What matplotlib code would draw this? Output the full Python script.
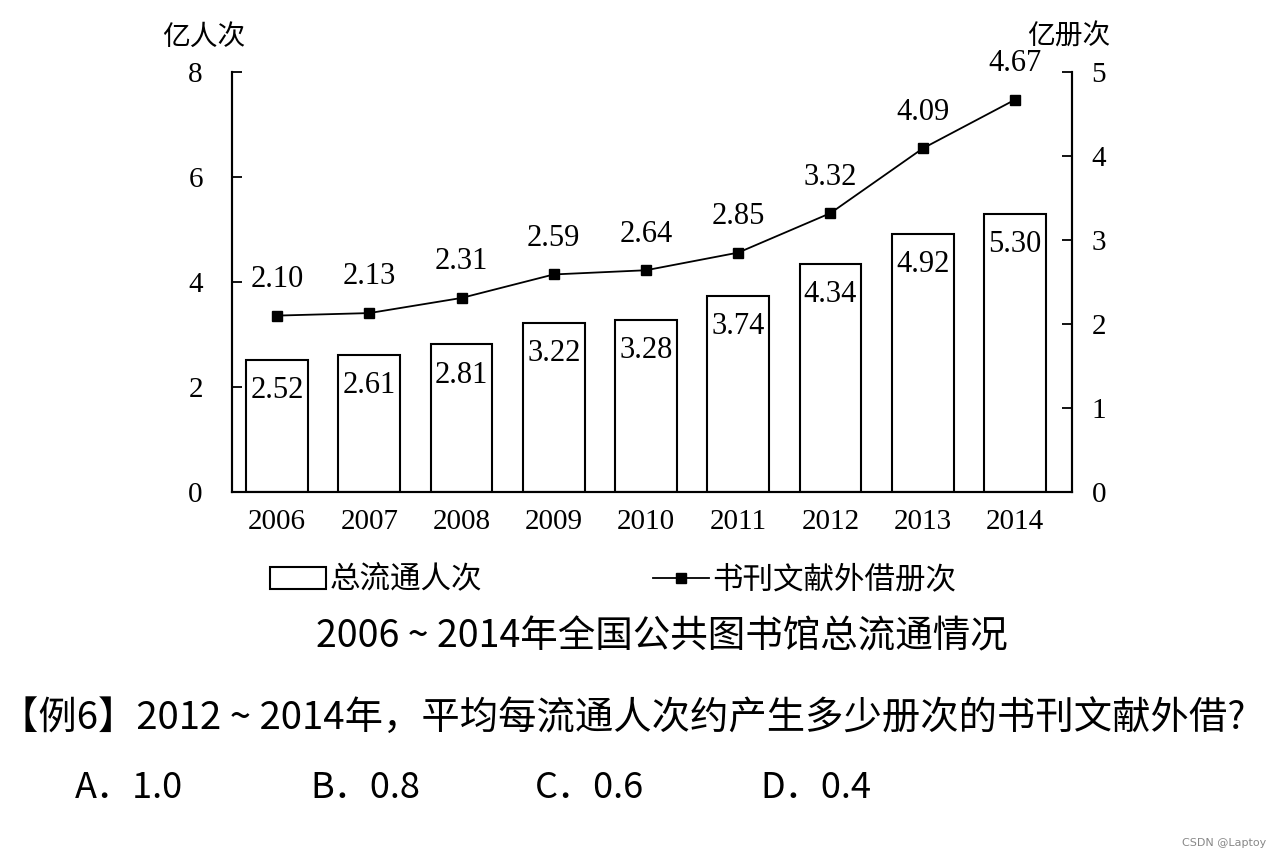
import matplotlib
matplotlib.use("Agg")
import matplotlib.pyplot as plt
from matplotlib.patches import Patch
from matplotlib.lines import Line2D

years = ["2006", "2007", "2008", "2009", "2010", "2011", "2012", "2013", "2014"]
visits = [2.52, 2.61, 2.81, 3.22, 3.28, 3.74, 4.34, 4.92, 5.30]      # 亿人次
loans = [2.10, 2.13, 2.31, 2.59, 2.64, 2.85, 3.32, 4.09, 4.67]       # 亿册次
left_ticks = [0, 2, 4, 6, 8]
right_ticks = [0, 1, 2, 3, 4, 5]

serif = ["Liberation Serif", "DejaVu Serif"]
cjk = ["Noto Sans CJK SC", "DejaVu Sans"]
plt.rcParams['font.family'] = cjk

fig = plt.figure(figsize=(12.83, 8.57), dpi=100)
ax = fig.add_axes([232/1283, 1-492/857, (1072-232)/1283, (492-72)/857])
ax2 = ax.twinx()

x = list(range(len(years)))
ax.bar(x, visits, width=0.67, facecolor="white", edgecolor="black", linewidth=1.5)
ax.set_xlim(-0.488, 8.618)
ax.set_ylim(0, 8)
ax.set_yticks(left_ticks)
ax.set_yticklabels([str(t) for t in left_ticks], family=serif, fontsize=21)
ax.set_xticks(x)
ax.set_xticklabels(years, family=serif, fontsize=21)
ax.tick_params(axis="x", length=0, pad=12)
ax.tick_params(axis="y", direction="in", length=7, width=1.3, pad=21)
for xi, v in zip(x, visits):
    ax.annotate(f"{v:.2f}", (xi, v), xytext=(0, -22), textcoords="offset points",
                ha="center", va="center", family=serif, fontsize=22)

ax2.plot(x, loans, color="black", linewidth=1.3, marker="s", markersize=7)
ax2.set_ylim(0, 5)
ax2.set_yticks(right_ticks)
ax2.set_yticklabels([str(t) for t in right_ticks], family=serif, fontsize=21)
ax2.tick_params(axis="y", direction="in", length=7, width=1.3, pad=14)
for xi, v in zip(x, loans):
    ax2.annotate(f"{v:.2f}", (xi, v), xytext=(0, 26), textcoords="offset points",
                 ha="center", va="center", family=serif, fontsize=22)

for a in (ax, ax2):
    a.spines["top"].set_visible(False)
    for s in ("left", "right", "bottom"):
        a.spines[s].set_linewidth(1.5)

fig.text(204/1283, 1-37/857, "亿人次", ha="center", va="center", fontsize=20)
fig.text(1069/1283, 1-37/857, "亿册次", ha="center", va="center", fontsize=20)

handles = [Patch(facecolor="white", edgecolor="black", linewidth=1.5),
           Line2D([], [], color="black", linewidth=1.3, marker="s", markersize=7)]
fig.legend(handles, ["总流通人次", "书刊文献外借册次"], ncol=2, frameon=False,
           loc="center", bbox_to_anchor=(613/1283, 1-580/857), fontsize=22,
           handlelength=1.85, handletextpad=0.1, columnspacing=5.6)

fig.text(662/1283, 1-637/857, "2006 ~ 2014年全国公共图书馆总流通情况",
         ha="center", va="center", fontsize=27)
fig.text(0.0, 1-718/857, "【例6】2012 ~ 2014年，平均每流通人次约产生多少册次的书刊文献外借?",
         ha="left", va="center", fontsize=27.6)
for lbl, xp in zip(["A．1.0", "B．0.8", "C．0.6", "D．0.4"], [75, 310, 535, 760]):
    fig.text(xp/1283, 1-788/857, lbl, ha="left", va="center", fontsize=26)
fig.text(1266/1283, 1-843/857, "CSDN @Laptoy", ha="right", va="center",
         fontsize=8, color="#888888", family=["DejaVu Sans"])

fig.savefig("out.png", dpi=100)
